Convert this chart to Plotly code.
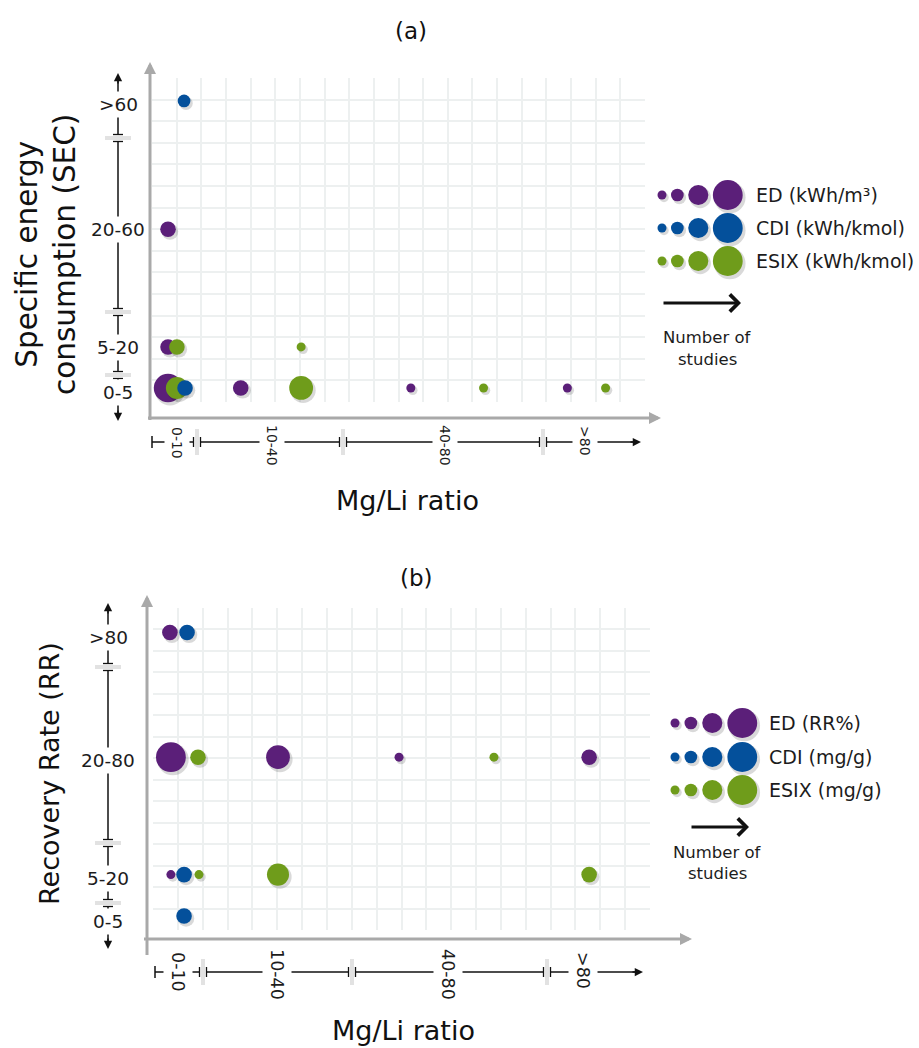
import math
import plotly.graph_objects as go

W, H = 919, 1048
FONT = "DejaVu Sans"


def X(p):
    return p / W


def Y(p):
    return 1 - p / H


# ---------------- data ----------------
series = ["ED", "CDI", "ESIX"]
draw_order = ["ED", "ESIX", "CDI"]
colors = {"ED": "#5b1f79", "CDI": "#04509b", "ESIX": "#6f9c1b"}

# Panel (a): Specific energy consumption vs Mg/Li ratio
a_y_levels = [">60", "20-60", "5-20", "0-5"]
a_y_rows = [13.94, 8.0, 2.55, 0.65]          # row on the 15-row grid
a_x_levels = ["0-10", "10-40", "40-80", ">80"]
a_legend_units = {"ED": "ED (kWh/m³)", "CDI": "CDI (kWh/kmol)", "ESIX": "ESIX (kWh/kmol)"}

a_ED_x = [0.65, 0.65, 0.65, 3.60, 10.50, 16.85]
a_ED_y = ["20-60", "5-20", "0-5", "0-5", "0-5", "0-5"]
a_ED_n = [3, 3, 10, 3, 1, 1]

a_CDI_x = [1.30, 1.34]
a_CDI_y = [">60", "0-5"]
a_CDI_n = [2, 3]

a_ESIX_x = [1.01, 6.05, 1.01, 6.05, 13.45, 18.40]
a_ESIX_y = ["5-20", "5-20", "0-5", "0-5", "0-5", "0-5"]
a_ESIX_n = [3, 1, 6, 7, 1, 1]

# Panel (b): Recovery rate vs Mg/Li ratio
b_y_levels = [">80", "20-80", "5-20", "0-5"]
b_y_rows = [13.86, 8.05, 2.58, 0.65]
b_x_levels = ["0-10", "10-40", "40-80", ">80"]
b_legend_units = {"ED": "ED (RR%)", "CDI": "CDI (mg/g)", "ESIX": "ESIX (mg/g)"}

b_ED_x = [0.68, 0.72, 5.03, 9.90, 17.55, 0.72]
b_ED_y = [">80", "20-80", "20-80", "20-80", "20-80", "5-20"]
b_ED_n = [3, 11, 7, 1, 3, 1]

b_CDI_x = [1.37, 1.25, 1.25]
b_CDI_y = [">80", "5-20", "0-5"]
b_CDI_n = [3, 3, 3]

b_ESIX_x = [1.81, 13.72, 1.85, 5.03, 17.55]
b_ESIX_y = ["20-80", "20-80", "5-20", "5-20", "5-20"]
b_ESIX_n = [3, 1, 1, 6, 3]

legend_n = [1, 2, 5, 11]   # number-of-studies key

SIZEREF = 1 / 40.5
SHADOW = "rgba(0,0,0,0.15)"


def radius(n):
    return math.sqrt(n / 2 / SIZEREF)


fig = go.Figure()


def add_bubbles(xs, ys, ns, color, xa, ya, dx, dy):
    # soft drop shadow
    fig.add_trace(go.Scatter(
        x=[v + dx for v in xs], y=[v + dy for v in ys], mode="markers",
        marker=dict(size=[n * 1.12 for n in ns], sizemode="area", sizeref=SIZEREF,
                    color=SHADOW, opacity=1, line=dict(width=0)),
        xaxis=xa, yaxis=ya, hoverinfo="skip", cliponaxis=False))
    fig.add_trace(go.Scatter(
        x=xs, y=ys, mode="markers",
        marker=dict(size=ns, sizemode="area", sizeref=SIZEREF, color=color,
                    line=dict(width=0), opacity=1),
        xaxis=xa, yaxis=ya, cliponaxis=False))


panel_a = {"ED": (a_ED_x, a_ED_y, a_ED_n), "CDI": (a_CDI_x, a_CDI_y, a_CDI_n),
           "ESIX": (a_ESIX_x, a_ESIX_y, a_ESIX_n)}
panel_b = {"ED": (b_ED_x, b_ED_y, b_ED_n), "CDI": (b_CDI_x, b_CDI_y, b_CDI_n),
           "ESIX": (b_ESIX_x, b_ESIX_y, b_ESIX_n)}

a_row = dict(zip(a_y_levels, a_y_rows))
b_row = dict(zip(b_y_levels, b_y_rows))

for s in draw_order:
    xs, ys, ns = panel_a[s]
    add_bubbles(xs, [a_row[v] for v in ys], ns, colors[s], "x", "y", 0.08, -0.11)
for s in draw_order:
    xs, ys, ns = panel_b[s]
    add_bubbles(xs, [b_row[v] for v in ys], ns, colors[s], "x2", "y2", 0.08, -0.11)

shapes = []
annotations = []


def legend_block(left, rows_y, text_x, units, gap):
    for s, yy in zip(series, rows_y):
        xs = []
        cur = left
        for n in legend_n:
            r = radius(n)
            xs.append(cur + r)
            cur += 2 * r + gap
        fig.add_trace(go.Scatter(
            x=[v + 2 for v in xs], y=[yy + 2.5] * 4, mode="markers",
            marker=dict(size=[n * 1.12 for n in legend_n], sizemode="area", sizeref=SIZEREF,
                        color=SHADOW, opacity=1, line=dict(width=0)),
            xaxis="x3", yaxis="y3", hoverinfo="skip", cliponaxis=False))
        fig.add_trace(go.Scatter(
            x=xs, y=[yy] * 4, mode="markers",
            marker=dict(size=legend_n, sizemode="area", sizeref=SIZEREF, color=colors[s],
                        opacity=1, line=dict(width=0)),
            xaxis="x3", yaxis="y3", cliponaxis=False))
        annotations.append(dict(x=X(text_x), y=Y(yy), xref="paper", yref="paper",
                                text=units[s], showarrow=False, xanchor="left",
                                yanchor="middle",
                                font=dict(family=FONT, size=19, color="#1c1c1c")))


legend_block(657.5, [195, 228, 261], 754, a_legend_units, 4.5)
legend_block(670.5, [723, 757, 790], 767, b_legend_units, 5)


def arrow(x1, y1, x0, y0, color, width, head, size=1.0):
    annotations.append(dict(x=X(x1), y=Y(y1), xref="paper", yref="paper",
                            ax=x0 - x1, ay=y0 - y1, axref="pixel", ayref="pixel",
                            text="", showarrow=True, arrowhead=head, arrowsize=size,
                            arrowwidth=width, arrowcolor=color, standoff=0,
                            startstandoff=0))


def text(x, y, s, size, angle=0, bg=None, pad=1, color="#1c1c1c", xanchor="center",
         yanchor="middle"):
    d = dict(x=X(x), y=Y(y), xref="paper", yref="paper", text=s, showarrow=False,
             textangle=angle, xanchor=xanchor, yanchor=yanchor,
             font=dict(family=FONT, size=size, color=color), borderpad=pad)
    if bg:
        d["bgcolor"] = bg
    annotations.append(d)


def line(x0, y0, x1, y1, color, width):
    shapes.append(dict(type="line", xref="paper", yref="paper", x0=X(x0), y0=Y(y0),
                       x1=X(x1), y1=Y(y1), line=dict(color=color, width=width)))


def rect(x0, y0, x1, y1, fill):
    shapes.append(dict(type="rect", xref="paper", yref="paper", x0=X(x0), y0=Y(y0),
                       x1=X(x1), y1=Y(y1), fillcolor=fill, line=dict(width=0)))


def ybreak(xc, yb):
    rect(xc - 3, yb - 3, xc + 3, yb + 3, "white")
    rect(xc - 13, yb - 2, xc + 13, yb + 2, "rgba(140,140,140,0.25)")
    line(xc - 5, yb - 3.5, xc + 5, yb - 3.5, "#111", 1.3)
    line(xc - 5, yb + 3.5, xc + 5, yb + 3.5, "#111", 1.3)


def xbreak(xb, yc):
    rect(xb - 3, yc - 3, xb + 3, yc + 3, "white")
    rect(xb - 2, yc - 13, xb + 2, yc + 13, "rgba(140,140,140,0.25)")
    line(xb - 3.5, yc - 5, xb - 3.5, yc + 5, "#111", 1.3)
    line(xb + 3.5, yc - 5, xb + 3.5, yc + 5, "#111", 1.3)


GRAY = "#a9a9a9"


def panel_decor(p):
    # gray main axes
    line(p["yax_x"], p["yax_bot"], p["yax_x"], p["yax_top"] + 6, GRAY, 3)
    arrow(p["yax_x"], p["yax_top"], p["yax_x"], p["yax_top"] + 12, GRAY, 3, 2, 0.8)
    line(p["xax_left"], p["xax_y"], p["xax_right"] - 6, p["xax_y"], GRAY, 3)
    arrow(p["xax_right"], p["xax_y"], p["xax_right"] - 12, p["xax_y"], GRAY, 3, 2, 0.8)

    # y category bracket
    bx = p["br_x"]
    line(bx, p["br_top"] + 4, bx, p["br_bot"] - 4, "#111", 1.5)
    arrow(bx, p["br_top"], bx, p["br_top"] + 12, "#111", 1.5, 2, 1.1)
    arrow(bx, p["br_bot"], bx, p["br_bot"] - 12, "#111", 1.5, 2, 1.1)
    for yb in p["br_breaks"]:
        ybreak(bx, yb)
    for lab, yy in zip(p["y_levels"], p["y_label_pos"]):
        text(bx, yy, lab, 18.5, bg="white", pad=2)

    # x category bracket
    ly = p["xb_y"]
    line(p["xb_left"], ly, p["xb_right"] - 4, ly, "#111", 1.5)
    arrow(p["xb_right"], ly, p["xb_right"] - 12, ly, "#111", 1.5, 2, 1.1)
    line(p["xb_left"], ly - 6, p["xb_left"], ly + 6, "#111", 1.5)
    for xb in p["xb_breaks"]:
        xbreak(xb, ly)
    for lab, xx, yy in zip(p["x_levels"], p["x_label_pos"], p["x_label_y"]):
        text(xx, yy, lab, p["x_font"], angle=90, bg="white", pad=4)


panel_decor(dict(
    yax_x=150, yax_bot=420, yax_top=62, xax_left=148, xax_right=661, xax_y=418,
    br_x=118, br_top=73, br_bot=421, br_breaks=[138, 312, 375],
    y_levels=a_y_levels, y_label_pos=[105, 230, 348, 392],
    xb_y=442, xb_left=152, xb_right=641, xb_breaks=[197, 343, 543],
    x_levels=a_x_levels, x_label_pos=[177, 272, 445, 585], x_label_y=[443, 445, 445, 441],
    x_font=14))

panel_decor(dict(
    yax_x=147, yax_bot=955, yax_top=595, xax_left=144, xax_right=692, xax_y=939,
    br_x=108, br_top=603, br_bot=949, br_breaks=[667, 843, 903],
    y_levels=b_y_levels, y_label_pos=[637, 760, 878, 921],
    xb_y=972, xb_left=155, xb_right=643, xb_breaks=[203, 352, 547],
    x_levels=b_x_levels, x_label_pos=[178, 277, 448, 583], x_label_y=[972, 974, 974, 970],
    x_font=17.5))

# legend arrows and captions
arrow(741, 303, 662, 303, "#111", 3, 4, 1.1)
text(707, 337, "Number of", 16.5)
text(707, 359, "studies", 16.5)
arrow(749, 827, 690, 827, "#111", 3, 4, 1.1)
text(717, 852, "Number of", 16.5)
text(717, 873, "studies", 16.5)

# titles
text(411, 31, "(a)", 23, color="#111")
text(416, 578, "(b)", 23, color="#111")
text(46, 255, "Specific energy<br>consumption (SEC)", 29.5, angle=-90, color="#111")
text(49, 774, "Recovery Rate (RR)", 27, angle=-90, color="#111")
text(407, 500, "Mg/Li ratio", 27, color="#111")
text(403, 1047, "Mg/Li ratio", 27, color="#111", yanchor="bottom", pad=0)

GRID = "#edf0f0"
ax_common = dict(showgrid=True, gridcolor=GRID, gridwidth=1.5, zeroline=False,
                 showticklabels=False, ticks="", showline=False, fixedrange=True,
                 dtick=1, tick0=0)

fig.update_layout(
    width=W, height=H, autosize=False,
    margin=dict(l=0, r=0, t=0, b=0, pad=0),
    paper_bgcolor="white", plot_bgcolor="rgba(0,0,0,0)",
    showlegend=False,
    xaxis=dict(domain=[X(152), X(645)], range=[0, 20], anchor="y", **ax_common),
    yaxis=dict(domain=[Y(402), Y(78)], range=[0, 15], anchor="x", **ax_common),
    xaxis2=dict(domain=[X(153), X(650)], range=[0, 20], anchor="y2", **ax_common),
    yaxis2=dict(domain=[Y(930), Y(608)], range=[0, 15], anchor="x2", **ax_common),
    xaxis3=dict(domain=[0, 1], range=[0, W], anchor="y3", visible=False, fixedrange=True),
    yaxis3=dict(domain=[0, 1], range=[H, 0], anchor="x3", visible=False, fixedrange=True),
    shapes=shapes,
    annotations=annotations,
)

fig.write_html("out.html")
